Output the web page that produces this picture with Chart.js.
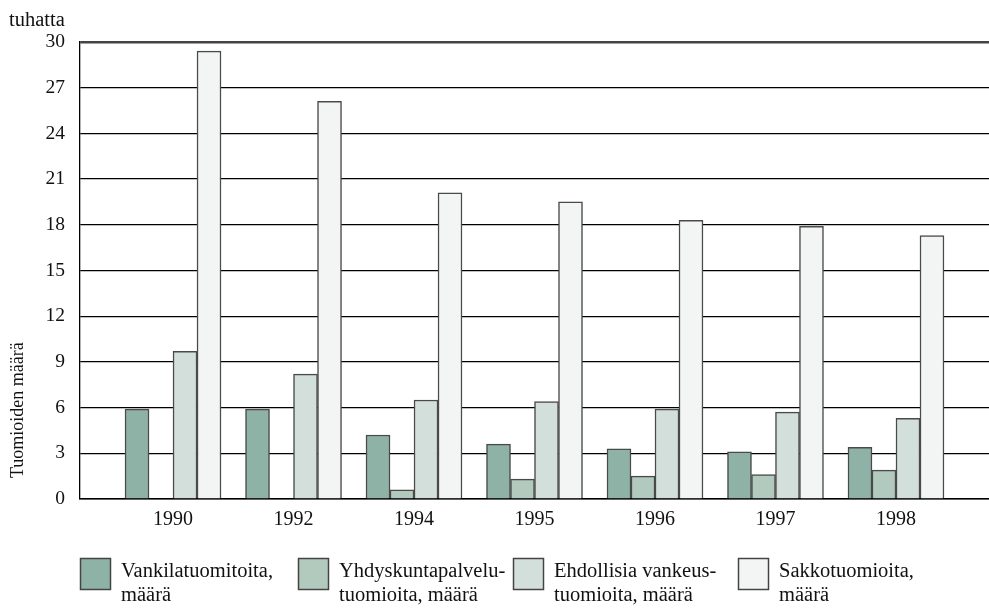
<!DOCTYPE html>
<html>
<head>
<meta charset="utf-8">
<script src="https://cdn.jsdelivr.net/npm/chart.js@4"></script>
<style>
  body { margin: 0; background: #fff; }
  #chart { display: block; }
</style>
</head>
<body>
<canvas id="chart" width="989" height="609"></canvas>
<script>
  // --- data (tuhatta) ---
  const years = ["1990", "1992", "1994", "1995", "1996", "1997", "1998"];
  const vankila = [5.9, 5.9, 4.2, 3.6, 3.3, 3.1, 3.4];
  const yhdyskunta = [0, 0, 0.6, 1.3, 1.5, 1.6, 1.9];
  const ehdollinen = [9.7, 8.2, 6.5, 6.4, 5.9, 5.7, 5.3];
  const sakko = [29.4, 26.1, 20.1, 19.5, 18.3, 17.9, 17.3];
  const seriesNames = [
    ["Vankilatuomitoita,", "määrä"],
    ["Yhdyskuntapalvelu-", "tuomioita, määrä"],
    ["Ehdollisia vankeus-", "tuomioita, määrä"],
    ["Sakkotuomioita,", "määrä"],
  ];
  const yTicks = [0, 3, 6, 9, 12, 15, 18, 21, 24, 27, 30];

  const FONT = "'Liberation Serif', 'Times New Roman', serif";
  const colors = ["#8fb2a7", "#b2c9be", "#d3dfdb", "#f3f5f4"];
  const points = (arr) => arr.map((v, i) => ({ x: i, y: v }));

  // custom texts + legend (two-line labels)
  const extras = {
    id: "extras",
    afterDraw(chart) {
      const ctx = chart.ctx;
      ctx.save();
      ctx.fillStyle = "#111";
      ctx.textBaseline = "alphabetic";
      ctx.textAlign = "left";
      ctx.font = "20.5px " + FONT;
      ctx.fillText("tuhatta", 9, 26);

      ctx.save();
      ctx.font = "18px " + FONT;
      ctx.translate(23, 478);
      ctx.rotate(-Math.PI / 2);
      ctx.fillText("Tuomioiden määrä", 0, 0);
      ctx.restore();

      ctx.font = "20.5px " + FONT;
      const boxX = [80, 298, 513, 738];
      chart.data.datasets.forEach((ds, i) => {
        ctx.fillStyle = ds.backgroundColor;
        ctx.fillRect(boxX[i], 558, 30, 31);
        ctx.strokeStyle = "#444";
        ctx.lineWidth = 1.5;
        ctx.strokeRect(boxX[i] + 0.5, 558.5, 30, 31);
        ctx.fillStyle = "#111";
        seriesNames[i].forEach((line, j) => {
          ctx.fillText(line, boxX[i] + 41, 577 + j * 24);
        });
      });
      ctx.restore();
    },
  };

  new Chart(document.getElementById("chart"), {
    type: "bar",
    data: {
      datasets: [vankila, yhdyskunta, ehdollinen, sakko].map((arr, i) => ({
        label: seriesNames[i].join(" "),
        data: points(arr),
        backgroundColor: colors[i],
        borderColor: "#4a4a4a",
        borderWidth: 1.5,
        barThickness: 24,
      })),
    },
    options: {
      responsive: false,
      animation: false,
      layout: { padding: { top: 42, right: 0, bottom: 65, left: 0 } },
      plugins: { legend: { display: false }, tooltip: { enabled: false } },
      scales: {
        x: {
          type: "linear",
          offset: false,
          min: -0.772,
          max: 6.772,
          afterBuildTicks: (s) => { s.ticks = years.map((_, i) => ({ value: i })); },
          afterFit: (s) => { s.height = 45; },
          ticks: {
            callback: (v) => years[v],
            color: "#111",
            font: { family: FONT, size: 20 },
            padding: 1,
            maxRotation: 0,
            autoSkip: false,
          },
          grid: { display: false, offset: false },
          border: { display: true, color: "#000", width: 1.5 },
        },
        y: {
          min: 0,
          max: 30,
          afterBuildTicks: (s) => { s.ticks = yTicks.map((v) => ({ value: v })); },
          afterFit: (s) => { s.width = 80; },
          ticks: {
            color: "#111",
            font: { family: FONT, size: 19.5 },
            padding: 15,
          },
          grid: {
            drawTicks: false,
            color: (c) => (c.tick && c.tick.value === 30 ? "#444" : "#000"),
            lineWidth: (c) => (c.tick && c.tick.value === 30 ? 2.5 : 1.3),
          },
          border: { display: true, color: "#000", width: 1.3 },
        },
      },
    },
    plugins: [extras],
  });
</script>
</body>
</html>
